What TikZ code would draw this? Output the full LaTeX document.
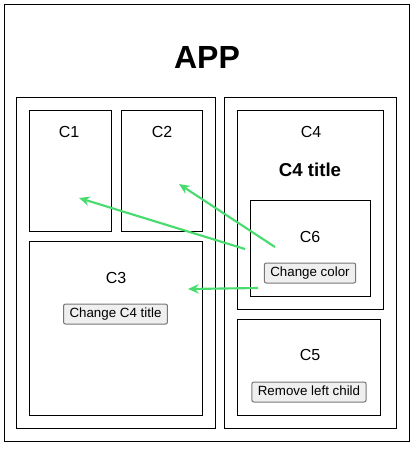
\documentclass[tikz,border=0pt]{standalone}
\usepackage{fontspec}
\setmainfont{Liberation Sans}
\usetikzlibrary{arrows.meta,fit,positioning}
\definecolor{arrowgreen}{HTML}{48DC6E}
\definecolor{btnfill}{HTML}{EFEFEF}
\definecolor{btnline}{HTML}{767676}

\begin{document}
\begin{tikzpicture}[x=0.75pt,y=-0.75pt,>=Stealth,
    box/.style={draw,line width=0.75pt,inner sep=0pt},
    lbl/.style={font=\fontsize{12}{14}\selectfont},
    btn/.style={draw=btnline,fill=btnfill,line width=0.75pt,rounded corners=1.5pt,
                font=\fontsize{10}{12}\selectfont,inner xsep=4.5pt,inner ysep=0pt,
                minimum height=15pt,text height=7.2pt,text depth=2pt},
    flow/.style={->,draw=arrowgreen,line width=1.6pt,
                 -{Stealth[length=8pt,width=7pt]}}]

  \useasboundingbox (0,0) rectangle (418,451);

  % containers
  \node[box,fit={(4,4.5) (409,441)}]       (app)   {};
  \node[box,fit={(16.5,97.5) (215,428)}]   (left)  {};
  \node[box,fit={(224.5,97.5) (396,428)}]  (right) {};
  \node[box,fit={(29.5,110) (111,231)}]    (c1)    {};
  \node[box,fit={(121,110) (202.5,231)}]   (c2)    {};
  \node[box,fit={(29.5,241) (202.5,415)}]  (c3)    {};
  \node[box,fit={(237,110) (383.5,309)}]   (c4)    {};
  \node[box,fit={(250,200.5) (370,296)}]   (c6)    {};
  \node[box,fit={(237,319) (380.5,415)}]   (c5)    {};

  % texts
  \node[font=\bfseries\fontsize{24}{28}\selectfont] (apptitle) at (207,57) {APP};
  \node[lbl] (c1t) at (69,132)  {C1};
  \node[lbl] (c2t) at (162,132) {C2};
  \node[lbl] (c4t) at (311,132) {C4};
  \node[font=\bfseries\fontsize{14}{16}\selectfont] (c4title) at (310,170) {C4 title};
  \node[lbl] (c6t) at (310,237) {C6};
  \node[lbl] (c3t) at (116,278) {C3};
  \node[lbl] (c5t) at (310,355) {C5};

  % buttons
  \node[btn] (colorbtn)  at (310,273)   {Change color};
  \node[btn] (titlebtn)  at (115.5,314) {Change C4 title};
  \node[btn] (removebtn) at (309,392)   {Remove left child};

  % green arrows
  \coordinate (s1) at (245,249);
  \coordinate (e1) at (79,198);
  \coordinate (s2) at (275,247);
  \coordinate (e2) at (179,184);
  \coordinate (s3) at (258,288);
  \coordinate (e3) at (188,289);
  \draw[flow] (s1) -- (e1);
  \draw[flow] (s2) -- (e2);
  \draw[flow] (s3) -- (e3);
\end{tikzpicture}
\end{document}
